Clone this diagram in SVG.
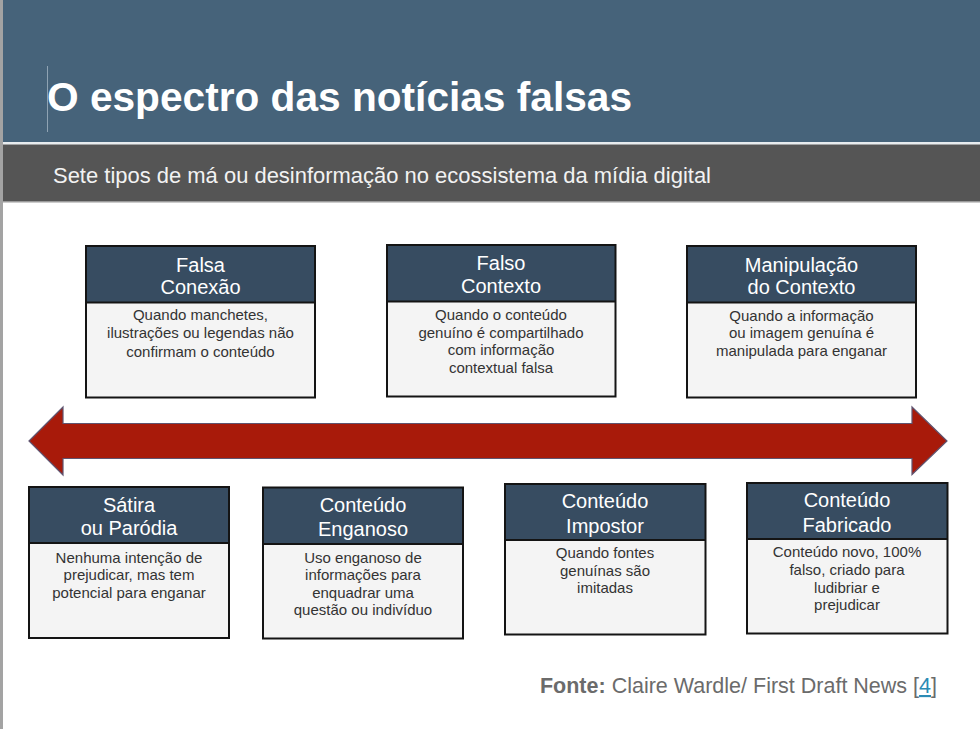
<svg xmlns="http://www.w3.org/2000/svg" width="980" height="729" viewBox="0 0 980 729">
<style>
.hd{fill:#374c61}
.bd{fill:#f4f4f4}
.fr{fill:none;stroke:#141414;stroke-width:2}
.ht{font-family:"Liberation Sans",Arial,sans-serif;font-size:20px;fill:#ffffff;text-anchor:middle}
.bt{font-family:"Liberation Sans",Arial,sans-serif;font-size:15px;fill:#333333;text-anchor:middle}
</style>
<rect x="0" y="0" width="980" height="729" fill="#ffffff"/>
<g id="banner">
<rect x="0" y="0" width="980" height="142" fill="#46637a"/>
<rect x="0" y="142" width="980" height="2.5" fill="#e8ecef"/>
<rect x="0" y="144.5" width="980" height="56.5" fill="#555555"/>
<rect x="0" y="201" width="980" height="1.5" fill="#9a9a9a"/>
<line x1="47.5" y1="66" x2="47.5" y2="132" stroke="#8fa3b3" stroke-width="1"/>
<text x="47" y="111" font-family="'Liberation Sans',Arial,sans-serif" font-size="41" font-weight="bold" fill="#ffffff" textLength="585" lengthAdjust="spacingAndGlyphs">O espectro das notícias falsas</text>
<text x="53" y="183" font-family="'Liberation Sans',Arial,sans-serif" font-size="22" fill="#f2f2f2" textLength="658" lengthAdjust="spacingAndGlyphs">Sete tipos de má ou desinformação no ecossistema da mídia digital</text>
</g>
<rect x="0" y="0" width="3" height="729" fill="#a3a3a3"/>
<g id="connectors">
<polygon points="29,441 63,407 63,423.5 912,423.5 912,407 947,441 912,474.5 912,458.5 63,458.5 63,475" fill="#a81a0a" stroke="#5f5470" stroke-width="1.2"/>
</g>
<g id="falsa-conexao">
<rect class="bd" x="86" y="246" width="229" height="151.5"/>
<rect class="hd" x="86" y="246" width="229" height="56.5"/>
<rect class="fr" x="86" y="246" width="229" height="151.5"/>
<line x1="86" y1="302.5" x2="315" y2="302.5" stroke="#141414" stroke-width="2"/>
<text class="ht" x="200.5" y="271.7">Falsa</text>
<text class="ht" x="200.5" y="294">Conexão</text>
<text class="bt" x="200.5" y="320">Quando manchetes,</text>
<text class="bt" x="200.5" y="338.3">ilustrações ou legendas não</text>
<text class="bt" x="200.5" y="356.7">confirmam o conteúdo</text>
</g>
<g id="falso-contexto">
<rect class="bd" x="387" y="245" width="228.5" height="151.5"/>
<rect class="hd" x="387" y="245" width="228.5" height="56.5"/>
<rect class="fr" x="387" y="245" width="228.5" height="151.5"/>
<line x1="387" y1="301.5" x2="615.5" y2="301.5" stroke="#141414" stroke-width="2"/>
<text class="ht" x="501" y="270">Falso</text>
<text class="ht" x="501" y="293">Contexto</text>
<text class="bt" x="501" y="320">Quando o conteúdo</text>
<text class="bt" x="501" y="337.5">genuíno é compartilhado</text>
<text class="bt" x="501" y="355">com informação</text>
<text class="bt" x="501" y="372.7">contextual falsa</text>
</g>
<g id="manipulacao-contexto">
<rect class="bd" x="687" y="246" width="229" height="151.5"/>
<rect class="hd" x="687" y="246" width="229" height="56.5"/>
<rect class="fr" x="687" y="246" width="229" height="151.5"/>
<line x1="687" y1="302.5" x2="916" y2="302.5" stroke="#141414" stroke-width="2"/>
<text class="ht" x="801.5" y="271.7">Manipulação</text>
<text class="ht" x="801.5" y="294">do Contexto</text>
<text class="bt" x="801.5" y="320.5">Quando a informação</text>
<text class="bt" x="801.5" y="338">ou imagem genuína é</text>
<text class="bt" x="801.5" y="356">manipulada para enganar</text>
</g>
<g id="satira-parodia">
<rect class="bd" x="29" y="487" width="200" height="151"/>
<rect class="hd" x="29" y="487" width="200" height="56"/>
<rect class="fr" x="29" y="487" width="200" height="151"/>
<line x1="29" y1="543" x2="229" y2="543" stroke="#141414" stroke-width="2"/>
<text class="ht" x="129" y="511.7">Sátira</text>
<text class="ht" x="129" y="535">ou Paródia</text>
<text class="bt" x="129" y="562.7">Nenhuma intenção de</text>
<text class="bt" x="129" y="580">prejudicar, mas tem</text>
<text class="bt" x="129" y="597.7">potencial para enganar</text>
</g>
<g id="conteudo-enganoso">
<rect class="bd" x="263" y="487.5" width="200" height="151"/>
<rect class="hd" x="263" y="487.5" width="200" height="56.5"/>
<rect class="fr" x="263" y="487.5" width="200" height="151"/>
<line x1="263" y1="544" x2="463" y2="544" stroke="#141414" stroke-width="2"/>
<text class="ht" x="363" y="511.7">Conteúdo</text>
<text class="ht" x="363" y="535.7">Enganoso</text>
<text class="bt" x="363" y="562.7">Uso enganoso de</text>
<text class="bt" x="363" y="580">informações para</text>
<text class="bt" x="363" y="598">enquadrar uma</text>
<text class="bt" x="363" y="615">questão ou indivíduo</text>
</g>
<g id="conteudo-impostor">
<rect class="bd" x="505" y="484" width="200.5" height="150.5"/>
<rect class="hd" x="505" y="484" width="200.5" height="56"/>
<rect class="fr" x="505" y="484" width="200.5" height="150.5"/>
<line x1="505" y1="540" x2="705.5" y2="540" stroke="#141414" stroke-width="2"/>
<text class="ht" x="605" y="508.3">Conteúdo</text>
<text class="ht" x="605" y="532.7">Impostor</text>
<text class="bt" x="605" y="558.3">Quando fontes</text>
<text class="bt" x="605" y="576">genuínas são</text>
<text class="bt" x="605" y="593.3">imitadas</text>
</g>
<g id="conteudo-fabricado">
<rect class="bd" x="747" y="483" width="200.5" height="150.5"/>
<rect class="hd" x="747" y="483" width="200.5" height="56"/>
<rect class="fr" x="747" y="483" width="200.5" height="150.5"/>
<line x1="747" y1="539" x2="947.5" y2="539" stroke="#141414" stroke-width="2"/>
<text class="ht" x="847" y="506.7">Conteúdo</text>
<text class="ht" x="847" y="531.7">Fabricado</text>
<text class="bt" x="847" y="557.3">Conteúdo novo, 100%</text>
<text class="bt" x="847" y="575.3">falso, criado para</text>
<text class="bt" x="847" y="592.7">ludibriar e</text>
<text class="bt" x="847" y="610">prejudicar</text>
</g>
<g id="fonte">
<text x="937" y="693" text-anchor="end" font-family="'Liberation Sans',Arial,sans-serif" font-size="21.5" fill="#6b6b6b"><tspan font-weight="bold">Fonte:</tspan> Claire Wardle/ First Draft News [<tspan fill="#2b8bb5" text-decoration="underline">4</tspan>]</text>
</g>
</svg>
